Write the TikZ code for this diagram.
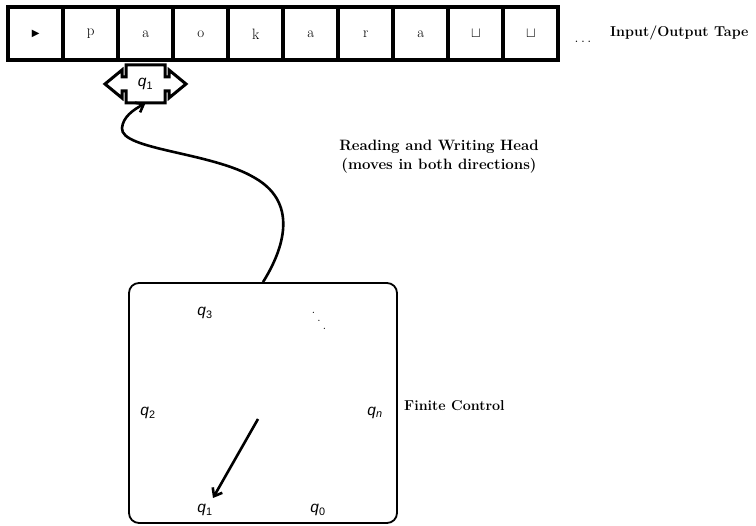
\documentclass[tikz,border=0pt]{standalone}
\usepackage{fontspec}
\usetikzlibrary{arrows.meta}
\newfontfamily\qfont{Liberation Sans}
\newfontfamily\symfont{DejaVu Sans}
\newcommand{\qs}[1]{{\qfont{\itshape q}\textsubscript{#1}}}
\tikzset{
  cell/.style={draw, line width=4pt, minimum width=55pt, minimum height=53pt, inner sep=0pt, font=\fontsize{15}{17}\selectfont},
  lbl/.style={font=\fontsize{14.3}{17}\selectfont\bfseries, inner sep=0pt},
  qlbl/.style={font=\fontsize{15.5}{17}\selectfont, inner sep=0pt},
  thickarrow/.style={line width=2.6pt, -{Straight Barb[length=7pt,width=11pt,line width=2.6pt]}},
}
\begin{document}
\begin{tikzpicture}[x=1pt,y=-1pt]
\useasboundingbox (0,0) rectangle (756,526);
% tape
\foreach \s [count=\i from 0] in {{\symfont\fontsize{10}{10}\selectfont ▶},p,a,o,k,a,r,a,$\sqcup$,$\sqcup$}{
  \node[cell] (c\i) at ({35.8+55*\i},34) {\s};
}
\node[inner sep=0pt, font=\fontsize{14}{15}\selectfont] (dots) at (583,42) {$\ldots$};
\node[lbl, anchor=west] (tapelbl) at (610,33) {Input/Output Tape};
% head
\node[qlbl, minimum width=39pt, minimum height=38pt] (head) at (145.5,84) {\qs{1}};
\draw[line width=3pt, line join=miter]
  (126,65) -- (165,65) -- (165,77) -- (169,77) -- (169,70) -- (186,84) -- (169,98) -- (169,91) -- (165,91) -- (165,103)
  -- (126,103) -- (126,91) -- (122,91) -- (122,98) -- (105,84) -- (122,70) -- (122,77) -- (126,77) -- cycle;
\node[lbl, font=\fontsize{15}{19}\selectfont\bfseries, align=center] (headlbl) at (439,157) {Reading and Writing Head\\(moves in both directions)};
% finite control
\node[draw, line width=1.8pt, rounded corners=10pt, minimum width=268pt, minimum height=240pt] (ctrl) at (263,403) {};
\node[lbl, anchor=west] (ctrllbl) at (404,406) {Finite Control};
\draw[thickarrow, line width=2.6pt] (ctrl.north) .. controls (280,255) and (302,205) .. (255,178)
  .. controls (212,152) and (120,150) .. (122,128) .. controls (123,117) and (133,110) .. (head.south);
% states
\node[qlbl] (q3) at (205,313) {\qs{3}};
\node[qlbl] (q2) at (148,413) {\qs{2}};
\node[qlbl] (qn) at (375,413) {\qs{\itshape n}};
\node[qlbl] (q1) at (205,510) {\qs{1}};
\node[qlbl] (q0) at (318,510) {\qs{0}};
\node[inner sep=0pt, font=\fontsize{15}{17}\selectfont] (vdots) at (319,321) {\raisebox{16pt}{.}\hspace{1.8pt}\raisebox{8pt}{.}\hspace{1.8pt}.};
\coordinate (pa) at (258,419);
\coordinate (pb) at (213,498);
\draw[thickarrow] (pa) -- (pb);
\end{tikzpicture}
\end{document}
